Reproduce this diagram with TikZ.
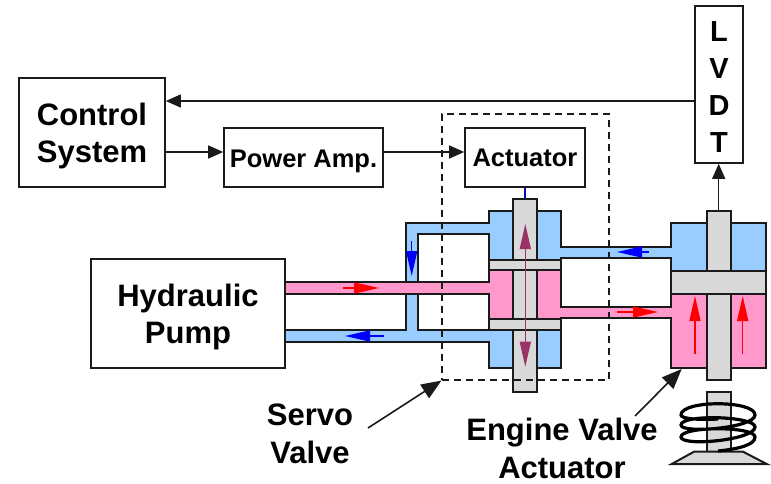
\documentclass[tikz,border=0pt]{standalone}
\usepackage{fontspec}
\setmainfont{Liberation Sans}
\usetikzlibrary{arrows.meta}
\definecolor{ink}{HTML}{1A1A1A}
\definecolor{oilblue}{HTML}{99CCFF}
\definecolor{oilpink}{HTML}{FF99CC}
\definecolor{rodgray}{HTML}{D9D9D9}
\definecolor{plum}{HTML}{993366}
\begin{document}
\begin{tikzpicture}[
  x=1pt, y=-1pt,
  box/.style={draw=ink, line width=1.6pt, fill=white, align=center, inner sep=0pt,
              font=\fontsize{31}{37}\selectfont\bfseries},
  smallbox/.style={box, font=\fontsize{25.5}{30}\selectfont\bfseries},
  wall/.style={draw=ink, line width=2pt, line join=miter},
  rod/.style={wall, fill=rodgray, inner sep=0pt, minimum width=24pt},
  land/.style={wall, fill=rodgray, inner sep=0pt},
  sig/.style={-{Stealth[length=15pt, width=13pt, inset=0pt]}, line width=1.4pt, draw=ink},
  lead/.style={-{Stealth[length=20pt, width=16pt, inset=0pt]}, line width=1.6pt, draw=ink},
  redflow/.style={-{Stealth[length=25pt, width=11pt, inset=0pt]}, line width=1.5pt, draw=red},
  blueflow/.style={-{Stealth[length=25pt, width=11pt, inset=0pt]}, line width=1.5pt, draw=blue},
  caption/.style={font=\fontsize{31}{38}\selectfont\bfseries, align=center, inner sep=0pt},
]
\useasboundingbox (0,0) rectangle (771,484);
% -- oil passages
\draw[wall, fill=oilblue] (285,330) -- (405.7,330) -- (405.7,222.7) -- (489,222.7) -- (489,210.7)
  -- (561,210.7) -- (561,246.7) -- (670.7,246.7) -- (670.7,223) -- (766,223) -- (766,271)
  -- (670.7,271) -- (670.7,258) -- (561,258) -- (561,259.5) -- (489,259.5) -- (489,234)
  -- (417.7,234) -- (417.7,330) -- (561,330) -- (561,368) -- (489,368) -- (489,342) -- (285,342) -- cycle;
\draw[wall, fill=oilpink] (285,282.3) -- (489,282.3) -- (489,270) -- (561,270) -- (561,306.7)
  -- (670.7,306.7) -- (670.7,294.3) -- (766,294.3) -- (766,368) -- (670.7,368) -- (670.7,317.7)
  -- (561,317.7) -- (561,319) -- (489,319) -- (489,294.3) -- (285,294.3) -- cycle;
% -- rods and lands
\node[rod, minimum height=192.7pt] (spool) at (525,295.3) {};
\node[rod, minimum height=169pt] (evrod) at (718.7,295.5) {};
\node[land, minimum width=72pt, minimum height=10.5pt] (landa) at (525,264.75) {};
\node[land, minimum width=72pt, minimum height=11pt] (landb) at (525,324.5) {};
\node[land, minimum width=95.3pt, minimum height=23.3pt] (piston) at (718.35,282.65) {};
% -- boxes
\node[box, minimum width=146pt, minimum height=109pt] (ctrl) at (92,132.5) {\rule{0pt}{29pt}Control\\System};
\node[smallbox, minimum width=159pt, minimum height=59pt] (amp) at (303.5,157.5) {\rule{0pt}{26pt}Power Amp.};
\node[smallbox, minimum width=120pt, minimum height=59pt] (act) at (525,157.5) {Actuator};
\node[box, minimum width=194pt, minimum height=109pt] (pump) at (188,313.5) {\rule{0pt}{29pt}Hydraulic\\Pump};
\node[box, minimum width=48pt, minimum height=157pt, font=\fontsize{29}{37}\selectfont\bfseries] (lvdt) at (719,84.5) {\rule{0pt}{26pt}L\\V\\D\\T};
\node[draw=ink, line width=1.2pt, dash pattern=on 7pt off 5pt, minimum width=167pt, minimum height=266pt, inner sep=0pt] (servo) at (525.5,247) {};
% -- valve and spring
\node[rod, minimum height=60pt] (stemv) at (718.7,421.7) {};
\draw[wall, fill=rodgray] (671.7,464) -- (694,451.7) -- (743,451.7) -- (766.7,464) -- cycle;
\draw[line width=3.2pt, draw=black] (718,451) .. controls (738,449) and (755,445) .. (755,437)
  .. controls (755,426) and (681,426) .. (681,437) .. controls (681,447) and (755,440) .. (755,427)
  .. controls (755,416) and (681,414) .. (681,425) .. controls (681,434) and (755,428) .. (755,415)
  .. controls (755,400) and (681,400) .. (681,415) .. controls (681,419) and (700,420) .. (718,419);
% -- signal lines
\draw[sig] (lvdt.west |- 0,101) -- (ctrl.east |- 0,101);
\draw[sig] (ctrl.east |- 0,152) -- (amp.west |- 0,152);
\draw[sig] (amp.east |- 0,152) -- (act.west |- 0,152);
\draw[sig] (evrod.north) -- (evrod.north |- lvdt.south);
\draw[draw=blue!70!ink, line width=1.3pt] (act.south) -- (spool.north);
% -- flow arrows
\draw[redflow] (343,288) -- (379,288);
\draw[redflow] (617,312) -- (658,312);
\draw[redflow] (695,354) -- (695,296);
\draw[redflow] (742.7,354) -- (742.7,296);
\draw[blueflow] (384,336) -- (345,336);
\draw[blueflow] (649,252) -- (617,252);
\draw[blueflow] (411.7,241) -- (411.7,276);
\draw[{Stealth[length=25pt, width=11pt, inset=0pt]}-{Stealth[length=25pt, width=11pt, inset=0pt]}, line width=1.5pt, draw=plum] (525.3,224) -- (525.3,366.7);
% -- captions
\node[caption] (servocap) at (310,434) {Servo\\Valve};
\node[caption] (engcap) at (562,448.5) {Engine Valve\\Actuator};
\draw[lead] (368,428) -- (servo.south west);
\draw[lead] (635,416) -- (681.7,369);
\end{tikzpicture}
\end{document}
